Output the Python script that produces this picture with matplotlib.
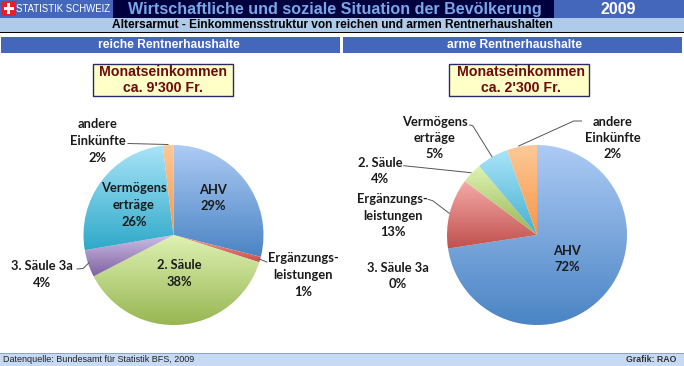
import numpy as np
import matplotlib
matplotlib.use('Agg')
import matplotlib.pyplot as plt
from matplotlib.colors import LinearSegmentedColormap
from matplotlib.patches import Rectangle

W, H = 684, 366

# slice sizes as drawn, in percent
rich_sizes = [28.9, 1.0, 37.5, 4.9, 25.8, 1.9]
poor_sizes = [72.6, 12.6, 3.7, 5.7, 5.4]

# gradient per slice: top colour, bottom colour
rich_colors = [('#adcbf5', '#4a84c4'), ('#f0a09c', '#c9504c'), ('#dff2b4', '#97b651'),
               ('#cdbde6', '#8064a2'), ('#a9e4f8', '#2fa9c9'), ('#fcc998', '#f79646')]
poor_colors = [('#adcbf5', '#4a84c4'), ('#f5aaa8', '#c0504d'), ('#dff2b4', '#97b651'),
               ('#a9e4f8', '#45b0d0'), ('#fcc998', '#f79646')]

SANS = ['Liberation Sans', 'DejaVu Sans']
LABEL = ['Lato', 'DejaVu Sans']

fig = plt.figure(figsize=(W / 100, H / 100), dpi=100, facecolor='white')
bg = fig.add_axes([0, 0, 1, 1], zorder=0)
bg.set_xlim(0, W)
bg.set_ylim(H, 0)
bg.axis('off')


def box(x0, y0, x1, y1, color, **kw):
    bg.add_patch(Rectangle((x0, y0), x1 - x0, y1 - y0, facecolor=color, linewidth=0, **kw))


# header
box(0, 0, 684, 18, '#00003f')
box(0, 0, 113, 18, '#4466bb')
box(554, 0, 684, 18, '#4466bb')
box(1, 1, 16, 16, '#e3202c')
box(7, 3, 10, 14, 'white')
box(3.5, 7, 13.5, 10, 'white')
bg.text(16.5, 9, 'STATISTIK SCHWEIZ', family=SANS, color='white', fontsize=6.9, ha='left', va='center')
bg.text(128, 9.5, 'Wirtschaftliche und soziale Situation der Bevölkerung', family=SANS, weight='bold',
        color='#78a8e8', fontsize=11.6, ha='left', va='center')
bg.text(618.5, 9.5, '2009', family=SANS, weight='bold', color='white', fontsize=11.5, ha='center', va='center')

box(0, 18, 684, 32, '#aecbea')
box(0, 32, 684, 33, '#000000')
bg.text(332.5, 25.5, 'Altersarmut - Einkommensstruktur von reichen und armen Rentnerhaushalten', family=SANS,
        weight='bold', color='black', fontsize=8.55, ha='center', va='center')

# section bars
box(1, 37, 340, 53, '#4466bb')
box(343, 37, 682, 53, '#4466bb')
bg.text(168.5, 45, 'reiche Rentnerhaushalte', family=SANS, weight='bold', color='white', fontsize=8.7, ha='center', va='center')
bg.text(514.5, 45, 'arme Rentnerhaushalte', family=SANS, weight='bold', color='white', fontsize=8.7, ha='center', va='center')

# income boxes
for x0, x1, tx, amount in [(92.5, 232.5, 163, "ca. 9'300 Fr."), (448.5, 588.5, 521, "ca. 2'300 Fr.")]:
    bg.add_patch(Rectangle((x0, 63.5), x1 - x0, 32, facecolor='#ffffc8', edgecolor='#2a2a66', linewidth=1))
    bg.text(tx, 71.5, 'Monatseinkommen', family=SANS, weight='bold', color='#6e0a0a', fontsize=10.2, ha='center', va='center')
    bg.text(tx, 88, amount, family=SANS, weight='bold', color='#6e0a0a', fontsize=10.2, ha='center', va='center')

# footer
box(0, 353, 684, 366, '#c6daf3')
box(0, 353, 684, 354, '#8fa3c8')
bg.text(3, 359.5, 'Datenquelle: Bundesamt für Statistik BFS, 2009', family=SANS, color='#222222', fontsize=6.5, ha='left', va='center')
bg.text(676, 359.5, 'Grafik: RAO', family=SANS, weight='bold', color='#333333', fontsize=6.3, ha='right', va='center')


def draw_pie(cx, cy, r, sizes, colors):
    ax = fig.add_axes([(cx - r - 2) / W, 1 - (cy + r + 2) / H, (2 * r + 4) / W, (2 * r + 4) / H], zorder=1)
    wedges, _ = ax.pie(sizes, startangle=90, counterclock=False, radius=r, center=(0, 0), normalize=True)
    ax.axis('off')
    for wedge, (top, bottom) in zip(wedges, colors):
        wedge.set_facecolor('none')
        wedge.set_linewidth(0)
        cmap = LinearSegmentedColormap.from_list('g', [top, bottom])
        # gradient runs over the slice's own height
        pts = wedge.get_patch_transform().transform(wedge.get_path().vertices)
        y0, y1 = pts[:, 1].min(), pts[:, 1].max()
        x0, x1 = pts[:, 0].min(), pts[:, 0].max()
        im = ax.imshow(np.linspace(0, 1, 128).reshape(-1, 1), cmap=cmap, aspect='auto',
                       extent=(x0, x1, y0, y1), origin='upper', zorder=2)
        im.set_clip_path(wedge)
    ax.set_xlim(-r - 2, r + 2)
    ax.set_ylim(-r - 2, r + 2)
    return ax


draw_pie(173.5, 235, 90, rich_sizes, rich_colors)
draw_pie(537, 235, 90, poor_sizes, poor_colors)

top = fig.add_axes([0, 0, 1, 1], zorder=3)
top.set_xlim(0, W)
top.set_ylim(H, 0)
top.axis('off')
top.patch.set_alpha(0)

labels = [
    (98, 141, 'andere\nEinkünfte\n2%'),
    (213, 198, 'AHV\n29%'),
    (134, 205, 'Vermögens\nerträge\n26%'),
    (179, 273.7, '2. Säule\n38%'),
    (42, 274.7, '3. Säule 3a\n4%'),
    (303, 275, 'Ergänzungs-\nleistungen\n1%'),
    (613, 138, 'andere\nEinkünfte\n2%'),
    (435, 138, 'Vermögens\nerträge\n5%'),
    (380, 171, '2. Säule\n4%'),
    (392.7, 215.7, 'Ergänzungs-\nleistungen\n13%'),
    (398, 276, '3. Säule 3a\n0%'),
    (567, 259, 'AHV\n72%'),
]
for x, y, s in labels:
    top.text(x, y, s, family=LABEL, weight='bold', color='#1a1a1a', fontsize=9.3, ha='center', va='center', linespacing=1.45)

leaders = [
    ([128, 168], [143.5, 144.5]),
    ([77, 83, 89], [269, 268.5, 262.7]),
    ([259, 267], [259, 262]),
    ([581.5, 573.7, 518.7], [121, 121, 146]),
    ([469.7, 472.7, 492], [125, 125.7, 156.7]),
    ([403.7, 471], [165.7, 172.7]),
    ([428, 432.7, 449.3], [199.3, 200.7, 213.3]),
]
for xs, ys in leaders:
    top.plot(xs, ys, color='#555555', linewidth=0.7)

fig.savefig('out.png', dpi=100)
